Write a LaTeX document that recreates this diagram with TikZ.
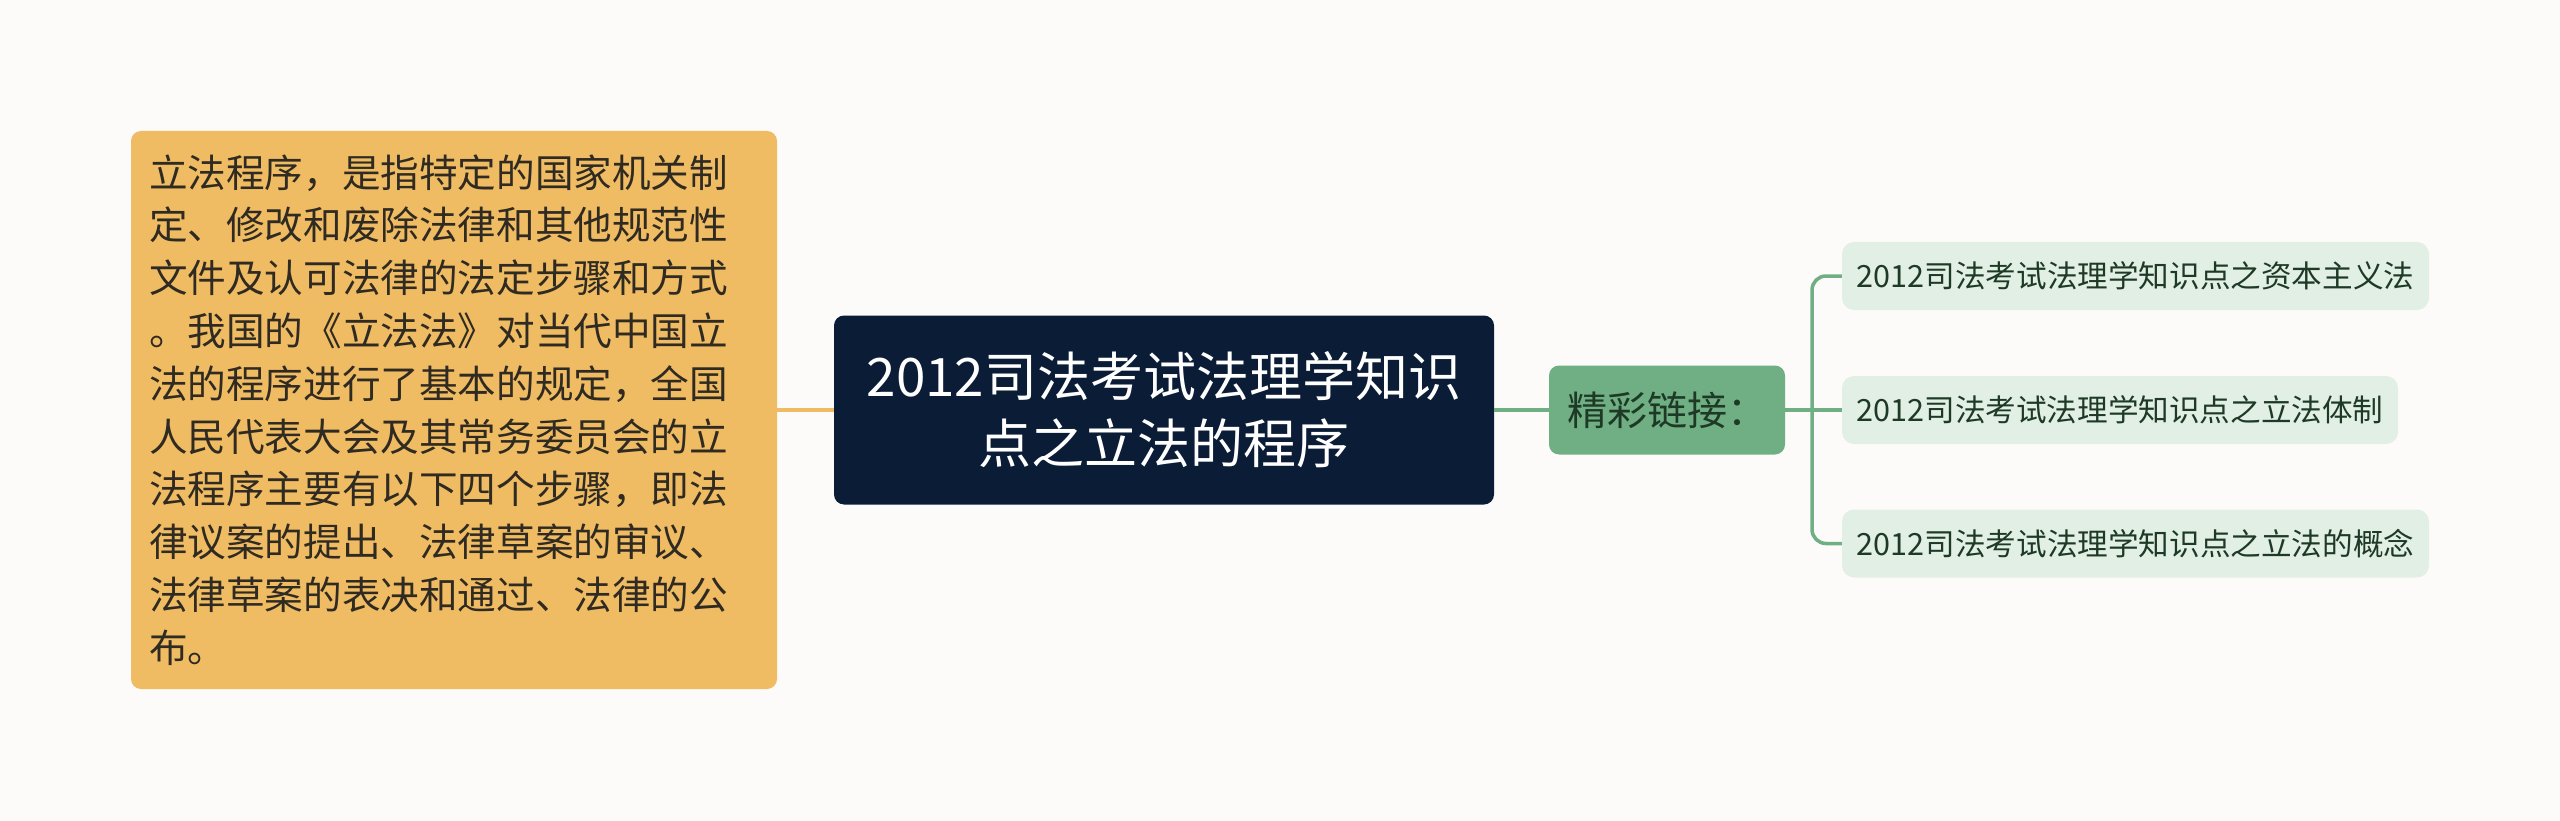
\documentclass[tikz,border=0pt]{standalone}
\usepackage{fontspec}
\setmainfont{Noto Sans CJK SC}
\definecolor{bgc}{HTML}{FDFBF9}
\definecolor{orangec}{HTML}{F0BC63}
\definecolor{darkc}{HTML}{0B1D36}
\definecolor{greenc}{HTML}{70AF84}
\definecolor{leafc}{HTML}{E2EFE5}
\definecolor{leaftext}{HTML}{1E3A26}
\definecolor{lefttext}{HTML}{2F2A22}
\tikzset{
  leftbox/.style={fill=orangec, rounded corners=10pt, minimum width=646pt, minimum height=558pt, inner sep=0pt, text width=610pt, align=left, text=lefttext, font=\fontsize{38.6}{52.8}\selectfont},
  rootbox/.style={fill=darkc, rounded corners=10pt, minimum width=660pt, minimum height=189pt, inner sep=0pt, align=center, text=white, font=\fontsize{53}{67}\selectfont},
  midbox/.style={fill=greenc, rounded corners=10pt, minimum width=236pt, minimum height=89pt, inner sep=0pt, align=center, text=leaftext, font=\fontsize{40}{48}\selectfont},
  leafbox/.style={fill=leafc, rounded corners=12pt, minimum height=68pt, inner sep=0pt, align=center, text=leaftext, font=\fontsize{30.6}{38}\selectfont},
  oline/.style={draw=orangec, line width=3.5pt},
  gline/.style={draw=greenc, line width=3.5pt},
}
\begin{document}
\begin{tikzpicture}[x=1pt,y=-1pt]
\useasboundingbox (0,0) rectangle (2560,821);
\fill[bgc] (0,0) rectangle (2560,821);
\node[leftbox] (L) at (454,410) {立法程序，是指特定的国家机关制\\定、修改和废除法律和其他规范性\\文件及认可法律的法定步骤和方式\\。我国的《立法法》对当代中国立\\法的程序进行了基本的规定，全国\\人民代表大会及其常务委员会的立\\法程序主要有以下四个步骤，即法\\律议案的提出、法律草案的审议、\\法律草案的表决和通过、法律的公\\布。};
\node[rootbox] (R) at (1164,410) {2012司法考试法理学知识\\点之立法的程序};
\node[midbox] (M) at (1667,410) {精彩链接：};
\node[leafbox, minimum width=587pt] (A) at (2135.5,276) {2012司法考试法理学知识点之资本主义法};
\node[leafbox, minimum width=556pt] (B) at (2120,410) {2012司法考试法理学知识点之立法体制};
\node[leafbox, minimum width=587pt] (C) at (2135.5,543.5) {2012司法考试法理学知识点之立法的概念};
\coordinate (J) at (1812,410);
\draw[oline] (L.east) -- (R.west);
\draw[gline] (R.east) -- (M.west);
\draw[gline] (M.east) -- (B.west);
\draw[gline, rounded corners=14pt] (A.west) -| (J);
\draw[gline, rounded corners=14pt] (C.west) -| (J);
\end{tikzpicture}
\end{document}
